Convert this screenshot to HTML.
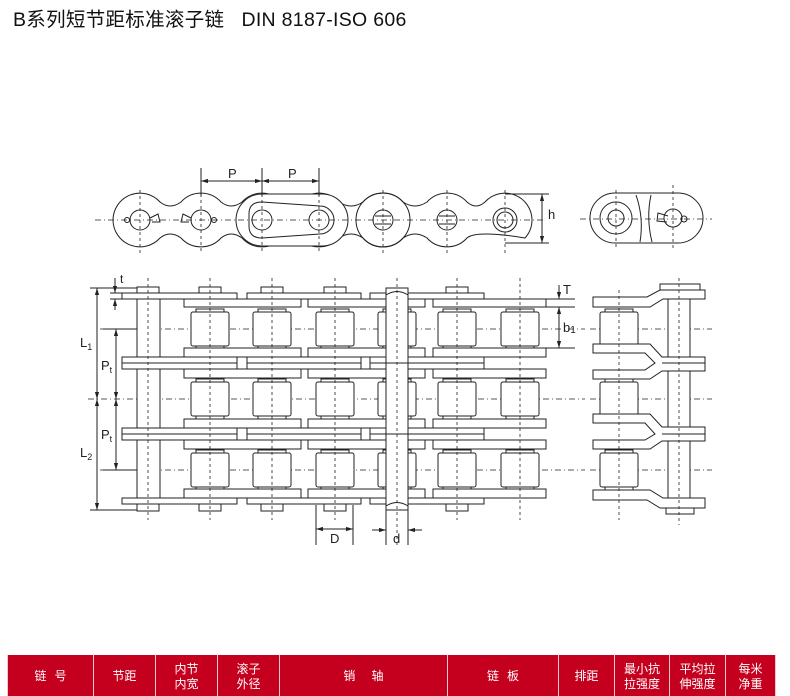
<!DOCTYPE html>
<html><head><meta charset="utf-8"><style>
body{margin:0;background:#fff;width:790px;height:695px;overflow:hidden;position:relative;font-family:"Liberation Sans","Noto Sans CJK SC",sans-serif}
.t{position:absolute;left:13px;top:3px;font-size:19.5px;color:#111;letter-spacing:0.3px;white-space:nowrap}
table{position:absolute;left:7px;top:655px;border-collapse:collapse;height:41px;width:768px;table-layout:fixed}
td{background:#c4001e;color:#fff;font-size:12px;text-align:center;border-left:1px solid #f2c8cc;border-right:1px solid #f2c8cc;line-height:15px;padding:0;font-family:"Noto Sans CJK SC",sans-serif}
</style></head><body>
<div class="t">B系列短节距标准滚子链&nbsp;&nbsp;&nbsp;DIN 8187-ISO 606</div>
<svg width="790" height="655" style="position:absolute;left:0;top:0" font-family="Liberation Sans, sans-serif">
<defs>
<g id="roll"><rect x="-14" y="-20" width="28" height="4" fill="#fff" stroke="#222"/><rect x="-14" y="16" width="28" height="4" fill="#fff" stroke="#222"/><rect x="-19" y="-17" width="38" height="34" rx="2" fill="#fff" stroke="#222"/></g>
<marker id="a" viewBox="0 0 10 10" refX="10" refY="5" markerWidth="7" markerHeight="7" orient="auto-start-reverse"><path d="M0,2 L10,5 L0,8 z" fill="#222"/></marker>
</defs>
<g fill="none" stroke="#222" stroke-width="1">
<path d="M113,220 A27,27 0 0 1 160,202 Q170,210 181,202 A27,27 0 0 1 221,202 Q231,210 242,202 A27,27 0 0 1 282,202 Q290,210 299,202 A27,27 0 0 1 339,202 Q351,210 363,202 A27,27 0 0 1 403,202 Q415,210 427,202 A27,27 0 0 1 467,202 Q476,210 485,202 A27,27 0 0 1 532,220 A27,27 0 0 1 525,238 Q476,230 467,238 A27,27 0 0 1 427,238 Q415,230 403,238 A27,27 0 0 1 363,238 Q351,230 339,238 A27,27 0 0 1 299,238 Q290,230 282,238 A27,27 0 0 1 242,238 Q231,230 221,238 A27,27 0 0 1 181,238 Q170,230 160,238 A27,27 0 0 1 113,220 Z" fill="#fff"/>
<path d="M356,220 A27,27 0 0 1 410,220 A27,27 0 0 1 356,220"/>
<rect x="236" y="194" width="112" height="52" rx="26" fill="#fff"/>
<path d="M249,214 Q249,202 262,202 L320,206 A14,14 0 0 1 320,234 L262,238 Q249,238 249,226 Z"/>
<circle cx="140" cy="220" r="10"/><circle cx="201" cy="220" r="10"/><circle cx="262" cy="220" r="10"/><circle cx="319" cy="220" r="10"/>
<circle cx="383" cy="220" r="10"/><circle cx="447" cy="220" r="10"/><circle cx="505" cy="220" r="12"/><circle cx="505" cy="220" r="8"/>
<path d="M375,216 H391 M375,224 H391 M439,216 H455 M439,224 H455"/>
<path d="M150,218 L158,214 L160,222 L152,222 M191,218 L183,214 L181,222 L189,222"/><circle cx="127" cy="220" r="2.5"/><circle cx="214" cy="220" r="2.5"/>
<g stroke-dasharray="6,3,1,3" stroke-width="0.8"><path d="M95,220 H545"/></g>
<g stroke-dasharray="3,3" stroke-width="0.8"><path d="M140,190 V254 M201,170 V254 M262,170 V254 M319,170 V254 M383,190 V254 M447,190 V254 M505,190 V254"/></g>
<path d="M201,168 V196 M262,168 V196 M319,168 V196"/>
<path d="M201,181 H262" marker-start="url(#a)" marker-end="url(#a)"/><path d="M262,181 H319" marker-start="url(#a)" marker-end="url(#a)"/>
<path d="M505,194 H549 M505,243 H549"/><path d="M542,194 V243" marker-start="url(#a)" marker-end="url(#a)"/>
<rect x="590" y="193" width="113" height="50" rx="25" fill="#fff"/>
<path d="M636,195 Q644,218 640,242 M651,195 Q646,218 652,242"/>
<circle cx="616" cy="218" r="16"/><circle cx="616" cy="218" r="8"/><circle cx="673" cy="218" r="9"/><circle cx="684" cy="219" r="3"/>
<path d="M668,216 L658,213 L657,221 L667,222"/>
<g stroke-dasharray="6,3,1,3" stroke-width="0.8"><path d="M580,219 H712"/></g>
<g stroke-dasharray="3,3" stroke-width="0.8"><path d="M616,190 V250 M673,185 V250"/></g>
<g stroke-dasharray="6,3,1,3" stroke-width="0.8"><path d="M100,329 H585 M88,399 H585 M100,470 H585 M590,329 H712 M590,399 H712 M590,470 H712"/></g>
<rect x="137" y="299" width="23" height="199" fill="#fff"/>
<use href="#roll" x="210" y="329"/><use href="#roll" x="272" y="329"/><use href="#roll" x="335" y="329"/><use href="#roll" x="397" y="329"/><use href="#roll" x="457" y="329"/><use href="#roll" x="520" y="329"/>
<use href="#roll" x="210" y="399"/><use href="#roll" x="272" y="399"/><use href="#roll" x="335" y="399"/><use href="#roll" x="397" y="399"/><use href="#roll" x="457" y="399"/><use href="#roll" x="520" y="399"/>
<use href="#roll" x="210" y="470"/><use href="#roll" x="272" y="470"/><use href="#roll" x="335" y="470"/><use href="#roll" x="397" y="470"/><use href="#roll" x="457" y="470"/><use href="#roll" x="520" y="470"/>
<g fill="#fff">
<rect x="199" y="287" width="22" height="6"/><rect x="261" y="287" width="22" height="6"/><rect x="324" y="287" width="22" height="6"/><rect x="446" y="287" width="22" height="6"/><rect x="137" y="287" width="22" height="6"/>
<rect x="137" y="504" width="22" height="7"/><rect x="199" y="504" width="22" height="7"/><rect x="261" y="504" width="22" height="7"/><rect x="324" y="504" width="22" height="7"/><rect x="446" y="504" width="22" height="7"/>
<rect x="122" y="293" width="115" height="6"/><rect x="247" y="293" width="114" height="6"/><rect x="370" y="293" width="114" height="6"/>
<rect x="122" y="498" width="115" height="6"/><rect x="247" y="498" width="114" height="6"/><rect x="370" y="498" width="114" height="6"/>
<rect x="122" y="357" width="115" height="12"/><rect x="247" y="357" width="114" height="12"/><rect x="370" y="357" width="114" height="12"/>
<rect x="122" y="428" width="115" height="12"/><rect x="247" y="428" width="114" height="12"/><rect x="370" y="428" width="114" height="12"/>
<rect x="184" y="299" width="117" height="8"/><rect x="308" y="299" width="117" height="8"/><rect x="433" y="299" width="113" height="8"/>
<rect x="184" y="348" width="117" height="9"/><rect x="308" y="348" width="117" height="9"/><rect x="433" y="348" width="113" height="9"/>
<rect x="184" y="369" width="117" height="9"/><rect x="308" y="369" width="117" height="9"/><rect x="433" y="369" width="113" height="9"/>
<rect x="184" y="419" width="117" height="9"/><rect x="308" y="419" width="117" height="9"/><rect x="433" y="419" width="113" height="9"/>
<rect x="184" y="440" width="117" height="9"/><rect x="308" y="440" width="117" height="9"/><rect x="433" y="440" width="113" height="9"/>
<rect x="184" y="489" width="117" height="9"/><rect x="308" y="489" width="117" height="9"/><rect x="433" y="489" width="113" height="9"/>
<rect x="386" y="288" width="22" height="222"/>
</g>
<path d="M122,363 H237 M247,363 H361 M370,363 H484 M122,434 H237 M247,434 H361 M370,434 H484"/>
<path d="M386,295 Q397,288 408,295 M386,506 Q397,499 408,506"/>
<g stroke-dasharray="3,3" stroke-width="0.8"><path d="M148,278 V520 M210,278 V520 M272,278 V520 M335,278 V520 M397,278 V545 M457,278 V520 M520,278 V520"/></g>
<path d="M90,288 H137 M90,510 H137 M103,329 H137 M103,470 H137 M110,293 H122 M110,299 H122"/>
<path d="M97,288 V399" marker-start="url(#a)" marker-end="url(#a)"/><path d="M97,399 V510" marker-start="url(#a)" marker-end="url(#a)"/>
<path d="M116,329 V399" marker-start="url(#a)" marker-end="url(#a)"/><path d="M116,399 V470" marker-start="url(#a)" marker-end="url(#a)"/>
<path d="M115,278 V293" marker-end="url(#a)"/><path d="M115,310 V299" marker-end="url(#a)"/>
<path d="M316,505 V545 M353,505 V545 M386,510 V545 M408,510 V545"/>
<path d="M316,529 H353" marker-start="url(#a)" marker-end="url(#a)"/>
<path d="M372,530 H386" marker-end="url(#a)"/><path d="M422,530 H408" marker-end="url(#a)"/>
<path d="M546,299 H575 M546,307 H575 M546,348 H575"/>
<path d="M559,285 V299" marker-end="url(#a)"/><path d="M559,307 V348" marker-start="url(#a)" marker-end="url(#a)"/>
<rect x="668" y="288" width="22" height="220" fill="#fff"/>
<rect x="660" y="284" width="40" height="6" fill="#fff"/><rect x="666" y="508" width="28" height="6" fill="#fff"/>
<use href="#roll" x="619" y="329"/><use href="#roll" x="619" y="399"/><use href="#roll" x="619" y="470"/>
<g fill="#fff">
<path d="M593,297 H647 L660,290 H705 V299 H663 L650,307 H593 Z"/>
<path d="M593,344 H650 L662,357 H705 V371 H662 L650,379 H593 V370 H645 L655,363 L645,353 H593 Z"/>
<path d="M593,414 H650 L662,427 H705 V441 H662 L650,449 H593 V440 H645 L655,434 L645,423 H593 Z"/>
<path d="M593,490 H650 L663,498 H705 V508 H660 L647,500 H593 Z"/>
</g>
<path d="M662,363 H705 M662,434 H705"/>
<g stroke-dasharray="3,3" stroke-width="0.8"><path d="M619,290 V520 M679,278 V525"/></g>
</g>
<g font-size="13" fill="#222">
<text x="228" y="178">P</text><text x="288" y="178">P</text><text x="548" y="219">h</text>
<text x="120" y="283" font-size="12">t</text>
<text x="80" y="347">L<tspan font-size="9" dy="3">1</tspan></text>
<text x="80" y="457">L<tspan font-size="9" dy="3">2</tspan></text>
<text x="101" y="370">P<tspan font-size="9" dy="3">t</tspan></text>
<text x="101" y="439">P<tspan font-size="9" dy="3">t</tspan></text>
<text x="563" y="294">T</text>
<text x="563" y="332">b<tspan font-size="10" dy="1">1</tspan></text>
<text x="330" y="543">D</text><text x="393" y="543">d</text>
</g>
</svg>
<table><colgroup><col style="width:86px"><col style="width:62px"><col style="width:62px"><col style="width:62px"><col style="width:168px"><col style="width:111px"><col style="width:56px"><col style="width:55px"><col style="width:56px"><col style="width:50px"></colgroup><tr>
<td>链&nbsp;&nbsp;&nbsp;号</td><td>节距</td><td>内节<br>内宽</td><td>滚子<br>外径</td><td>销&nbsp;&nbsp;&nbsp;&nbsp;&nbsp;&nbsp;轴</td><td>链&nbsp;&nbsp;&nbsp;板</td><td>排距</td><td>最小抗<br>拉强度</td><td>平均拉<br>伸强度</td><td>每米<br>净重</td>
</tr></table>
</body></html>
